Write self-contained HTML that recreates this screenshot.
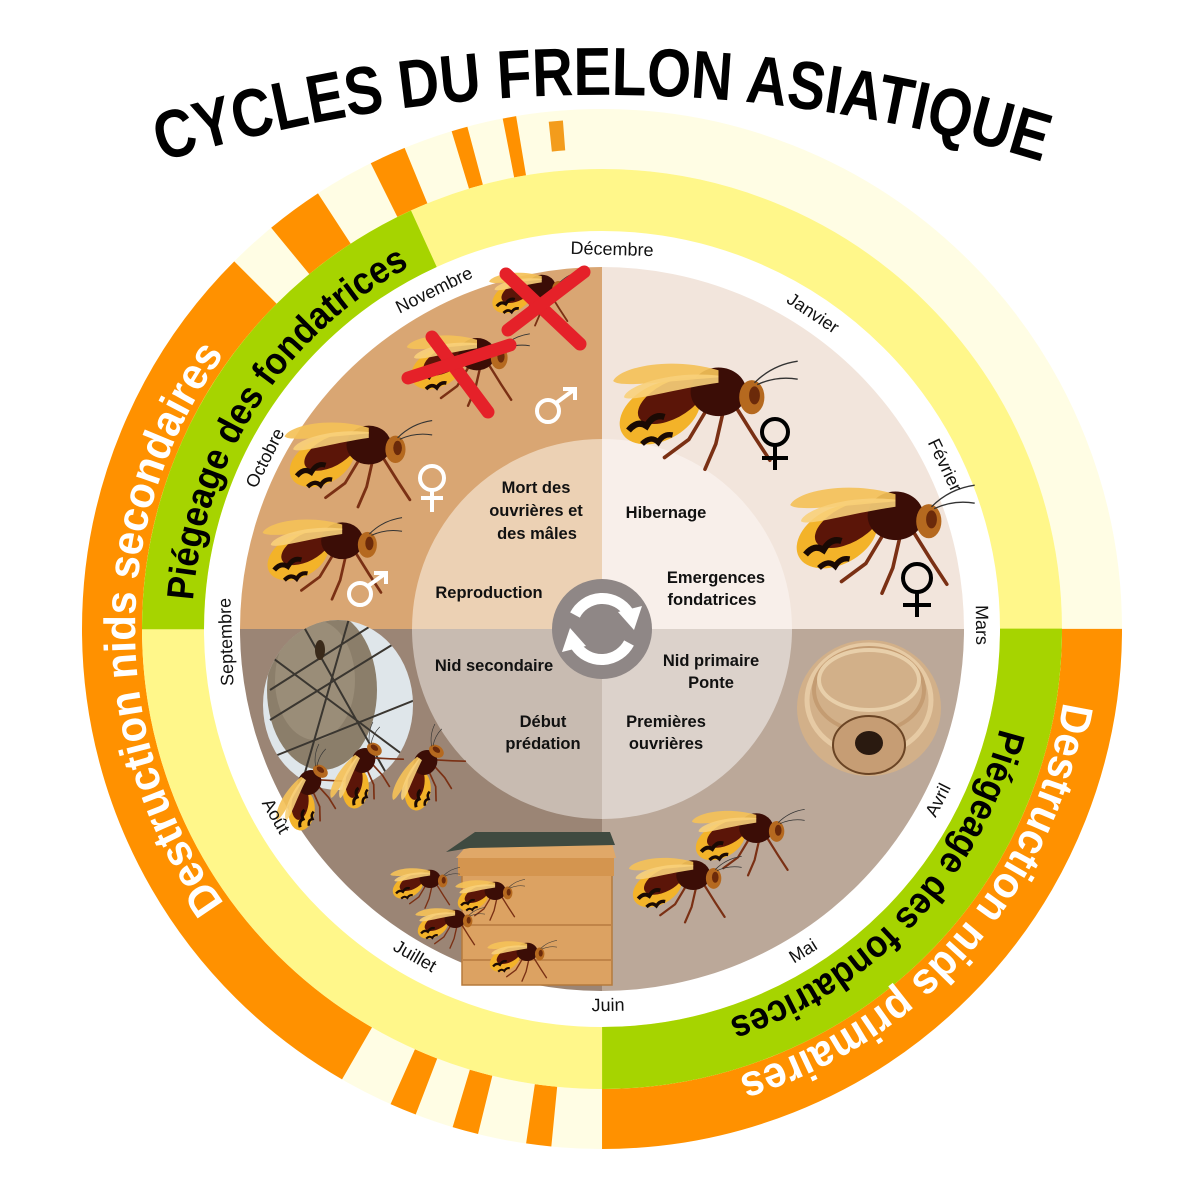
<!DOCTYPE html>
<html><head><meta charset="utf-8"><style>
html,body{margin:0;padding:0;background:#fff;}
svg{display:block;}
text{font-family:"Liberation Sans",sans-serif;}
</style></head><body>
<svg width="1181" height="1181" viewBox="0 0 1181 1181" xmlns="http://www.w3.org/2000/svg">
<defs>
<clipPath id="cq"><circle cx="602" cy="629" r="362"/></clipPath>
<clipPath id="ci"><circle cx="602" cy="629" r="190"/></clipPath>
<clipPath id="cn"><ellipse cx="338" cy="705" rx="75" ry="85"/></clipPath>
<path id="pt" d="M95.1,184.3 A1482,1482 0 0,1 1108.9,184.3"/>
<path id="pl1" d="M442.3,1067.8 A467,467 0 0,1 442.3,190.2"/>
<path id="pl2" d="M274.6,875.7 A410,410 0 0,1 694.2,229.5"/>
<path id="pr1" d="M1010.4,402.6 A467,467 0 0,1 434.6,1065"/>
<path id="pr2" d="M967.3,442.9 A410,410 0 0,1 441.8,1006.4"/>
<g id="bee">
 <g stroke="#7a3014" stroke-width="4" fill="none" stroke-linecap="round">
  <polyline points="0,5 -18,35 -45,55"/>
  <polyline points="20,5 12,40 0,68"/>
  <polyline points="35,0 55,32 72,58"/>
 </g>
 <ellipse cx="-50" cy="5" rx="48" ry="31" transform="rotate(-28 -50 5)" fill="#f3b329"/>
 <ellipse cx="-38" cy="-8" rx="40" ry="20" transform="rotate(-28 -38 -8)" fill="#5b1508"/>
 <path d="M-85,25 q10,-12 20,-5 q8,-14 20,-10" stroke="#1a0a04" stroke-width="7" fill="none"/>
 <path d="M-70,40 q10,-10 18,-2 q6,-10 16,-8" stroke="#1a0a04" stroke-width="6" fill="none"/>
 <ellipse cx="15" cy="-18" rx="31" ry="27" fill="#3b0d06"/>
 <ellipse cx="52" cy="-12" rx="14" ry="19" fill="#b5691f"/>
 <ellipse cx="55" cy="-14" rx="6" ry="10" fill="#6b2a0a"/>
 <path d="M55,-28 q20,-20 48,-24 M58,-26 q22,-10 45,-6" stroke="#333" stroke-width="1.5" fill="none"/>
 <path d="M15,-42 C-40,-58 -95,-45 -102,-30 C-95,-22 -40,-30 15,-34Z" fill="#f4c158" opacity="0.92"/>
 <path d="M15,-36 C-40,-42 -88,-24 -90,-12 C-82,-6 -40,-20 15,-28Z" fill="#f8d07a" opacity="0.9"/>
</g>
</defs>

<circle cx="602" cy="629" r="490" fill="none" stroke="#fffde4" stroke-width="60"/>
<g fill="none" stroke="#ff9100" stroke-width="60">
<circle cx="602" cy="629" r="490" pathLength="360" stroke-dasharray="90 270" stroke-dashoffset="0"/>
<circle cx="602" cy="629" r="490" pathLength="360" stroke-dasharray="105 255" stroke-dashoffset="-120"/>
<circle cx="602" cy="629" r="490" pathLength="360" stroke-dasharray="6.4 353.6" stroke-dashoffset="-230.5"/>
<circle cx="602" cy="629" r="490" pathLength="360" stroke-dasharray="4.1 355.9" stroke-dashoffset="-243.6"/>
<circle cx="602" cy="629" r="490" pathLength="360" stroke-dasharray="1.8 358.2" stroke-dashoffset="-253.2"/>
<circle cx="602" cy="629" r="490" pathLength="360" stroke-dasharray="1.5 358.5" stroke-dashoffset="-259"/>
<circle cx="602" cy="629" r="490" pathLength="360" stroke-dasharray="3 357" stroke-dashoffset="-111"/>
<circle cx="602" cy="629" r="490" pathLength="360" stroke-dasharray="2.9 357.1" stroke-dashoffset="-103.8"/>
<circle cx="602" cy="629" r="490" pathLength="360" stroke-dasharray="2.8 357.2" stroke-dashoffset="-95.6"/>
</g>
<circle cx="602" cy="629" r="495" fill="none" stroke="#f39c1c" stroke-width="30" pathLength="360" stroke-dasharray="1.6 358.4" stroke-dashoffset="-264"/>
<circle cx="602" cy="629" r="429" fill="none" stroke="#fff78a" stroke-width="62"/>
<g fill="none" stroke="#a6d400" stroke-width="62">
<circle cx="602" cy="629" r="429" pathLength="360" stroke-dasharray="90 270" stroke-dashoffset="0"/>
<circle cx="602" cy="629" r="429" pathLength="360" stroke-dasharray="65.5 294.5" stroke-dashoffset="-180"/>
</g>
<circle cx="602" cy="629" r="380" fill="#fff"/>

<g clip-path="url(#cq)">
<rect x="200" y="250" width="402" height="379" fill="#d9a673"/>
<rect x="602" y="250" width="402" height="379" fill="#f2e5dc"/>
<rect x="200" y="629" width="402" height="400" fill="#9b8575"/>
<rect x="602" y="629" width="402" height="400" fill="#bba899"/>
</g>
<g clip-path="url(#ci)">
<rect x="400" y="430" width="202" height="199" fill="#ecd1b4"/>
<rect x="602" y="430" width="202" height="199" fill="#f8efea"/>
<rect x="400" y="629" width="202" height="200" fill="#c8bbb1"/>
<rect x="602" y="629" width="202" height="200" fill="#dcd2cb"/>
</g>

<ellipse cx="869" cy="708" rx="72" ry="68" fill="#d2b089"/>
<ellipse cx="869" cy="700" rx="62" ry="55" fill="none" stroke="#e6caa4" stroke-width="5"/>
<ellipse cx="869" cy="690" rx="55" ry="42" fill="none" stroke="#c49c72" stroke-width="4"/>
<ellipse cx="869" cy="680" rx="50" ry="30" fill="none" stroke="#e8cfaa" stroke-width="4"/>
<ellipse cx="869" cy="745" rx="36" ry="29" fill="#c69d74" stroke="#6a4424" stroke-width="2"/>
<ellipse cx="869" cy="743" rx="14" ry="12" fill="#2a1a10"/>

<g clip-path="url(#cn)">
<rect x="260" y="615" width="160" height="180" fill="#dfe6ea"/>
<ellipse cx="322" cy="690" rx="55" ry="80" fill="#8b7e6a"/>
<ellipse cx="315" cy="680" rx="40" ry="60" fill="#9a8d78"/>
<g stroke="#3a3630" stroke-width="2" fill="none">
<path d="M262,650 L410,760 M270,720 L400,640 M300,620 L390,780 M265,760 L415,700 M350,615 L300,790 M380,620 L270,690"/>
</g>
<ellipse cx="320" cy="650" rx="5" ry="10" fill="#3a2a1a"/>
</g>

<rect x="462" y="875" width="150" height="110" fill="#dca262"/>
<rect x="462" y="875" width="150" height="110" fill="none" stroke="#b57a3c" stroke-width="1.5"/>
<line x1="462" y1="925" x2="612" y2="925" stroke="#c08448" stroke-width="2"/>
<line x1="462" y1="960" x2="612" y2="960" stroke="#c08448" stroke-width="2"/>
<polygon points="456,858 475,836 610,836 616,858" fill="#e0a868"/>
<polygon points="446,852 475,832 610,832 615,845 470,848" fill="#3f4a40"/>
<rect x="458" y="858" width="156" height="18" fill="#d4954f"/>

<use href="#bee" transform="translate(705,408) scale(0.9)"/>
<use href="#bee" transform="translate(882,532) scale(0.9)"/>
<use href="#bee" transform="translate(358,458) scale(0.72)"/>
<use href="#bee" transform="translate(332,553) scale(0.68)"/>
<use href="#bee" transform="translate(468,365) scale(0.6)"/>
<use href="#bee" transform="translate(535,295) scale(0.45)"/>
<use href="#bee" transform="translate(312,792) rotate(-55) scale(0.42)"/>
<use href="#bee" transform="translate(366,770) rotate(-55) scale(0.42)"/>
<use href="#bee" transform="translate(428,772) rotate(-55) scale(0.42)"/>
<use href="#bee" transform="translate(425,885) scale(0.34)"/>
<use href="#bee" transform="translate(490,897) scale(0.34)"/>
<use href="#bee" transform="translate(450,925) scale(0.34)"/>
<use href="#bee" transform="translate(522,958) scale(0.34)"/>
<use href="#bee" transform="translate(748,838) scale(0.55)"/>
<use href="#bee" transform="translate(685,885) scale(0.55)"/>

<g stroke="#e52129" stroke-width="13" stroke-linecap="round">
<line x1="506" y1="274" x2="580" y2="344"/><line x1="584" y1="272" x2="508" y2="330"/>
<line x1="432" y1="337" x2="488" y2="412"/><line x1="408" y1="378" x2="510" y2="345"/>
</g>

<g fill="none" stroke-width="4">
<g stroke="#000"><circle cx="775" cy="432" r="13"/><line x1="775" y1="445" x2="775" y2="470"/><line x1="762" y1="458" x2="788" y2="458"/>
<circle cx="917" cy="578" r="14"/><line x1="917" y1="592" x2="917" y2="617"/><line x1="903" y1="605" x2="931" y2="605"/></g>
<g stroke="#fff"><circle cx="432" cy="478" r="12"/><line x1="432" y1="490" x2="432" y2="512"/><line x1="421" y1="498" x2="443" y2="498"/>
<circle cx="548" cy="411" r="11"/><line x1="556" y1="403" x2="575" y2="389"/><polyline points="563,389 575,389 575,400"/>
<circle cx="360" cy="594" r="11"/><line x1="368" y1="586" x2="386" y2="573"/><polyline points="374,573 386,573 386,584"/></g>
</g>

<circle cx="602" cy="629" r="50" fill="#8f8786"/>
<g fill="none" stroke="#fff" stroke-width="11">
<path d="M575,615 A31,31 0 0,1 628,612"/>
<path d="M629,643 A31,31 0 0,1 576,646"/>
</g>
<polygon points="618,612 642,606 634,630" fill="#fff"/>
<polygon points="586,646 562,652 570,628" fill="#fff"/>

<g font-size="16.5" font-weight="bold" fill="#111" text-anchor="middle">
<text x="536" y="493">Mort des</text>
<text x="536" y="516">ouvrières et</text>
<text x="537" y="539">des mâles</text>
<text x="666" y="518">Hibernage</text>
<text x="716" y="583">Emergences</text>
<text x="712" y="605">fondatrices</text>
<text x="489" y="598">Reproduction</text>
<text x="494" y="671">Nid secondaire</text>
<text x="711" y="666">Nid primaire</text>
<text x="711" y="688">Ponte</text>
<text x="543" y="727">Début</text>
<text x="543" y="749">prédation</text>
<text x="666" y="727">Premières</text>
<text x="666" y="749">ouvrières</text>
</g>

<g font-size="18" fill="#111" text-anchor="middle" dominant-baseline="central">
<text transform="translate(612,249) rotate(1.5)">Décembre</text>
<text transform="translate(813,313) rotate(33.7)">Janvier</text>
<text transform="translate(945,465) rotate(64.4)">Février</text>
<text transform="translate(982,625) rotate(89.4)">Mars</text>
<text transform="translate(938,800) rotate(-63)">Avril</text>
<text transform="translate(803,951) rotate(-32)">Mai</text>
<text transform="translate(608,1005) rotate(-1)">Juin</text>
<text transform="translate(415,956) rotate(29.8)">Juillet</text>
<text transform="translate(276,816) rotate(60)">Août</text>
<text transform="translate(226,642) rotate(-92)">Septembre</text>
<text transform="translate(265,458) rotate(-63.2)">Octobre</text>
<text transform="translate(434,290) rotate(-26.2)">Novembre</text>
</g>

<text font-size="68" font-weight="bold" fill="#000" text-anchor="middle"><textPath href="#pt" startOffset="50%" textLength="894" lengthAdjust="spacingAndGlyphs">CYCLES DU FRELON ASIATIQUE</textPath></text>
<text font-size="44" font-weight="bold" fill="#fff" text-anchor="middle"><textPath href="#pl1" startOffset="50%" textLength="587" lengthAdjust="spacingAndGlyphs">Destruction nids secondaires</textPath></text>
<text font-size="38" font-weight="bold" fill="#000" text-anchor="middle"><textPath href="#pl2" startOffset="50%" textLength="415" lengthAdjust="spacingAndGlyphs">Piégeage des fondatrices</textPath></text>
<text font-size="44" font-weight="bold" fill="#fff" text-anchor="middle"><textPath href="#pr1" startOffset="50%" textLength="522" lengthAdjust="spacingAndGlyphs">Destruction nids primaires</textPath></text>
<text font-size="38" font-weight="bold" fill="#000" text-anchor="middle"><textPath href="#pr2" startOffset="50%" textLength="415" lengthAdjust="spacingAndGlyphs">Piégeage des fondatrices</textPath></text>
</svg>
</body></html>
